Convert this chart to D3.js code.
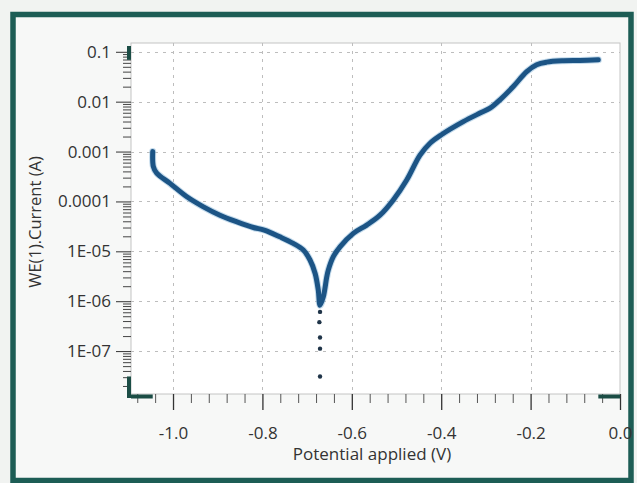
<!DOCTYPE html>
<html>
<head>
<meta charset="utf-8">
<script src="https://cdn.jsdelivr.net/npm/d3@7"></script>
<style>
    body { margin: 0; background: #f1f3f1; }
    svg { display: block; }
    .tick text { font-family: "Open Sans", "Noto Sans", sans-serif; font-size: 17px; fill: #333; }
    .axis-title { font-family: "Open Sans", "Noto Sans", sans-serif; font-size: 17px; fill: #333; }
</style>
</head>
<body>
<div id="chart"></div>
<script>
// polarisation scan
let potential = [-1.0454, -1.044, -1.0365, -1.0067, -0.969, -0.932, -0.895, -0.857, -0.820, -0.796,
    -0.761, -0.731, -0.7085, -0.6935, -0.682, -0.675, -0.6711,
    -0.6638, -0.656, -0.6526, -0.6414, -0.6264, -0.5966, -0.5667, -0.5369, -0.5072, -0.4772,
    -0.4474, -0.425, -0.4004, -0.3506, -0.3132, -0.2908, -0.2685, -0.2387, -0.2087, -0.1864,
    -0.164, -0.1268, -0.0895, -0.0485];
let current = [1.0e-3, 5.0e-4, 3.7e-4, 2.3e-4, 1.24e-4, 7.8e-5, 5.3e-5, 3.9e-5, 3.0e-5, 2.67e-5,
    1.95e-5, 1.44e-5, 1.06e-5, 6.7e-6, 3.6e-6, 1.66e-6, 8.3e-7,
    1.22e-6, 3.08e-6, 4.2e-6, 7.8e-6, 1.23e-5, 2.29e-5, 3.36e-5, 5.3e-5, 1.07e-4, 2.69e-4,
    8.5e-4, 1.47e-3, 2.15e-3, 3.98e-3, 5.9e-3, 7.4e-3, 1.09e-2, 2.01e-2, 4.0e-2, 5.5e-2,
    6.2e-2, 6.6e-2, 6.7e-2, 6.9e-2];

// stray points near the corrosion potential
let dotPotential = [-0.6711, -0.6726, -0.6711, -0.6711, -0.6711];
let dotCurrent = [6.1e-7, 3.8e-7, 1.87e-7, 1.12e-7, 3.1e-8];

let xTickValues = [-1.0, -0.8, -0.6, -0.4, -0.2, 0.0];
let xTickLabels = ["-1.0", "-0.8", "-0.6", "-0.4", "-0.2", "0.0"];
let yTickValues = [0.1, 0.01, 0.001, 0.0001, 1e-5, 1e-6, 1e-7];
let yTickLabels = ["0.1", "0.01", "0.001", "0.0001", "1E-05", "1E-06", "1E-07"];

let width = 637, height = 483;
let plot = {left: 131, top: 43, right: 620, bottom: 394};

let svg = d3.select("#chart").append("svg")
    .attr("width", width)
    .attr("height", height);

// outer panel + frame
svg.append("rect")
    .attr("x", 13).attr("y", 14.5)
    .attr("width", 618).attr("height", 466)
    .attr("fill", "#f7f8f7")
    .attr("stroke", "#1d5d55")
    .attr("stroke-width", 5.5);

// plot area
svg.append("rect")
    .attr("x", plot.left).attr("y", plot.top)
    .attr("width", plot.right - plot.left).attr("height", plot.bottom - plot.top)
    .attr("fill", "#ffffff")
    .attr("stroke", "#c4c4c4")
    .attr("stroke-width", 1);

let x = d3.scaleLinear().domain([-1.094, 0]).range([plot.left, plot.right]);
let y = d3.scaleLog().domain([1.38e-8, 0.15]).range([plot.bottom, plot.top]);

// grid
let grid = svg.append("g").attr("class", "grid")
    .attr("stroke", "#bdbdbd").attr("stroke-width", 1).attr("stroke-dasharray", "3,5");
grid.selectAll(".gx").data(xTickValues.slice(0, -1)).enter().append("line")
    .attr("x1", d => Math.round(x(d)) + 0.5).attr("x2", d => Math.round(x(d)) + 0.5)
    .attr("y1", plot.top).attr("y2", plot.bottom);
grid.selectAll(".gy").data(yTickValues).enter().append("line")
    .attr("y1", d => Math.round(y(d)) + 0.5).attr("y2", d => Math.round(y(d)) + 0.5)
    .attr("x1", plot.left).attr("x2", plot.right);

// minor ticks
let yMinor = [];
for (let e = -8; e <= -1; e++) {
    for (let k = 2; k <= 9; k++) {
        let v = k * Math.pow(10, e);
        if (v > y.domain()[0] && v < y.domain()[1]) yMinor.push(v);
    }
}
let xMinor = [];
for (let i = -27; i <= 0; i++) {
    let v = i * 0.04;
    if (v > x.domain()[0] && Math.abs(v * 5 - Math.round(v * 5)) > 1e-6) xMinor.push(v);
}

svg.append("g")
    .attr("transform", `translate(${plot.left},0)`)
    .call(d3.axisLeft(y).tickValues(yMinor).tickSize(8).tickFormat(""))
    .call(g => g.select(".domain").remove())
    .call(g => g.selectAll("line").attr("stroke", "#444"));

svg.append("g")
    .attr("transform", `translate(${plot.left},0)`)
    .call(d3.axisLeft(y).tickValues(yTickValues).tickSize(15).tickPadding(5)
        .tickFormat((d, i) => yTickLabels[i]))
    .call(g => g.select(".domain").remove())
    .call(g => g.selectAll("line").attr("stroke", "#333"));

svg.append("g")
    .attr("transform", `translate(0,${plot.bottom})`)
    .call(d3.axisBottom(x).tickValues(xMinor).tickSize(9).tickFormat(""))
    .call(g => g.select(".domain").remove())
    .call(g => g.selectAll("line").attr("stroke", "#555"));

svg.append("g")
    .attr("transform", `translate(0,${plot.bottom})`)
    .call(d3.axisBottom(x).tickValues(xTickValues).tickSize(16).tickPadding(17)
        .tickFormat((d, i) => xTickLabels[i]))
    .call(g => g.select(".domain").remove())
    .call(g => g.selectAll("line").attr("stroke", "#333").attr("stroke-width", 1.3));

// range markers: thick bars where there's no data
let xExt = d3.extent(potential.concat(dotPotential));
let yExt = d3.extent(current.concat(dotCurrent));
let bar = svg.append("g").attr("stroke", "#1b4d45").attr("stroke-width", 4);
bar.append("line").attr("x1", plot.left).attr("x2", x(xExt[0]))
    .attr("y1", plot.bottom + 2.5).attr("y2", plot.bottom + 2.5);
bar.append("line").attr("x1", x(xExt[1])).attr("x2", plot.right)
    .attr("y1", plot.bottom + 2.5).attr("y2", plot.bottom + 2.5);
bar.append("line").attr("x1", plot.left - 2).attr("x2", plot.left - 2)
    .attr("y1", plot.top + 3).attr("y2", y(yExt[1]));
bar.append("line").attr("x1", plot.left - 2).attr("x2", plot.left - 2)
    .attr("y1", y(yExt[0])).attr("y2", plot.bottom + 4);

// the curve
let pts = potential.map((p, i) => [p, current[i]]);
let line = d3.line()
    .x(d => x(d[0]))
    .y(d => y(d[1]))
    .curve(d3.curveCatmullRom.alpha(0.5));

svg.append("path")
    .datum(pts)
    .attr("fill", "none")
    .attr("stroke", "#9cc3e0")
    .attr("stroke-width", 7)
    .attr("stroke-linejoin", "round")
    .attr("stroke-linecap", "round")
    .attr("opacity", 0.6)
    .attr("d", line);

svg.append("path")
    .datum(pts)
    .attr("fill", "none")
    .attr("stroke", "#1c5485")
    .attr("stroke-width", 5)
    .attr("stroke-linejoin", "round")
    .attr("stroke-linecap", "round")
    .attr("d", line);

svg.selectAll(".dot")
    .data(dotPotential.map((p, i) => [p, dotCurrent[i]]))
    .enter().append("circle")
    .attr("class", "dot")
    .attr("cx", d => x(d[0]))
    .attr("cy", d => y(d[1]))
    .attr("r", 2.2)
    .attr("fill", "#1f3448");

// axis titles
svg.append("text")
    .attr("class", "axis-title")
    .attr("x", 372).attr("y", 460)
    .attr("text-anchor", "middle")
    .text("Potential applied (V)");

svg.append("text")
    .attr("class", "axis-title")
    .attr("transform", "translate(41,222) rotate(-90)")
    .attr("text-anchor", "middle")
    .style("font-size", "16.5px")
    .text("WE(1).Current (A)");
</script>
</body>
</html>
